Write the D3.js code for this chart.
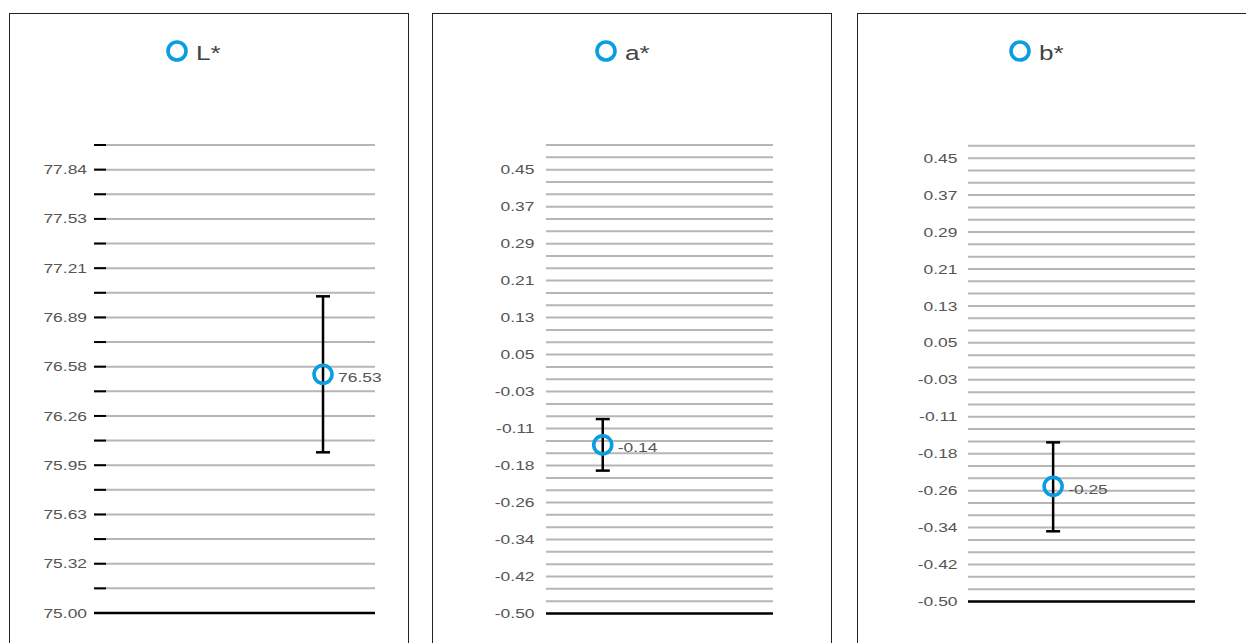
<!DOCTYPE html>
<html>
<head>
<meta charset="utf-8">
<script src="https://cdn.jsdelivr.net/npm/d3@7/dist/d3.min.js"></script>
<style>
  html, body { margin: 0; padding: 0; background: #fff; }
  svg { display: block; }
  text { font-family: "Liberation Sans", Arial, Helvetica, sans-serif; }
</style>
</head>
<body>
<svg id="chart" width="1246" height="643"></svg>
<script>
// Colour coordinates: mean value with its spread for each channel
const channels = ["L*", "a*", "b*"];
const means = [76.53, -0.14, -0.254];
const lows = [76.03, -0.195, -0.35];
const highs = [77.03, -0.085, -0.16];
const pointSlot = [0.815, 0.25, 0.375];

// Axis extents and gridline counts per channel
const domains = [[75, 78], [-0.5, 0.5], [-0.5, 0.5]];
const gridIntervals = [19, 38, 38];
const labelEvery = [2, 3, 3];

// Tick labels per channel
const ticksL = ["75.00", "75.32", "75.63", "75.95", "76.26", "76.58", "76.89", "77.21", "77.53", "77.84"];
const ticksA = ["-0.50", "-0.42", "-0.34", "-0.26", "-0.18", "-0.11", "-0.03", "0.05", "0.13", "0.21", "0.29", "0.37", "0.45"];
const ticksB = ["-0.50", "-0.42", "-0.34", "-0.26", "-0.18", "-0.11", "-0.03", "0.05", "0.13", "0.21", "0.29", "0.37", "0.45"];
const tickLabels = [ticksL, ticksA, ticksB];

const BLUE = "#0b9de2";
const GRID = "#b6b6b6";
const WIDE = 1.34; // horizontal stretch of the typeface

// Panel layout
const panels = [
  { left: 9.5,  plotX: [94, 375],   plotY: [613, 145],   labelRight: 87,  legendX: 177,  stubs: true,  skipTop: false },
  { left: 432.5, plotX: [546, 773], plotY: [613.5, 145], labelRight: 534.5, legendX: 606, stubs: false, skipTop: false },
  { left: 857.5, plotX: [968, 1195], plotY: [601.5, 133.5], labelRight: 957.5, legendX: 1020, stubs: false, skipTop: true }
];
const panelW = 399, panelTop = 13.5;

const svg = d3.select("#chart");
const fmt2 = d3.formatLocale({ decimal: ".", thousands: ",", grouping: [3], currency: ["", ""], minus: "-" }).format(".2f");

// text drawn with a widened face
function wideText(sel, x, y, str, size, fill, anchor) {
  return sel.append("text")
    .attr("transform", `translate(${x},${y}) scale(${WIDE},1)`)
    .attr("text-anchor", anchor || "start")
    .attr("font-size", size)
    .attr("fill", fill)
    .text(str);
}

panels.forEach((p, i) => {
  const g = svg.append("g");

  // frame
  g.append("rect")
    .attr("x", p.left).attr("y", panelTop)
    .attr("width", panelW).attr("height", 700)
    .attr("fill", "none").attr("stroke", "#222").attr("stroke-width", 1);

  const [d0, d1] = domains[i];
  const y = d3.scaleLinear().domain([d0, d1]).range(p.plotY);
  const x = d3.scaleLinear().domain([0, 1]).range(p.plotX);

  // gridlines
  const n = gridIntervals[i];
  let idx = d3.range(n + 1);
  if (p.skipTop) idx = idx.slice(0, n);
  const gridVals = idx.map(k => d0 + k * (d1 - d0) / n);

  g.selectAll("line.grid").data(gridVals.slice(1)).join("line")
    .attr("class", "grid")
    .attr("x1", p.plotX[0]).attr("x2", p.plotX[1])
    .attr("y1", d => y(d)).attr("y2", d => y(d))
    .attr("stroke", GRID).attr("stroke-width", 2);

  if (p.stubs) {
    g.selectAll("line.stub").data(gridVals.slice(1)).join("line")
      .attr("class", "stub")
      .attr("x1", p.plotX[0]).attr("x2", p.plotX[0] + 12)
      .attr("y1", d => y(d)).attr("y2", d => y(d))
      .attr("stroke", "#000").attr("stroke-width", 2);
  }

  // baseline
  g.append("line")
    .attr("x1", p.plotX[0]).attr("x2", p.plotX[1])
    .attr("y1", y(d0)).attr("y2", y(d0))
    .attr("stroke", "#000").attr("stroke-width", 2.5);

  // tick labels at every labelEvery-th gridline
  tickLabels[i].forEach((t, k) => {
    wideText(g, p.labelRight, y(gridVals[k * labelEvery[i]]) + 4.6, t, 13, "#555", "end");
  });

  // error bar
  const cx = x(pointSlot[i]);
  const capW = 7;
  const eb = g.append("g").attr("stroke", "#000").attr("stroke-width", 2.5);
  eb.append("line").attr("x1", cx).attr("x2", cx).attr("y1", y(lows[i])).attr("y2", y(highs[i]));
  eb.append("line").attr("x1", cx - capW).attr("x2", cx + capW).attr("y1", y(lows[i])).attr("y2", y(lows[i]));
  eb.append("line").attr("x1", cx - capW).attr("x2", cx + capW).attr("y1", y(highs[i])).attr("y2", y(highs[i]));

  // mean marker and its value
  g.append("circle")
    .attr("cx", cx).attr("cy", y(means[i])).attr("r", 9)
    .attr("fill", "none").attr("stroke", BLUE).attr("stroke-width", 3.6);
  wideText(g, cx + 15, y(means[i]) + 7.5, fmt2(means[i]), 13, "#555");

  // legend
  g.append("circle")
    .attr("cx", p.legendX).attr("cy", 51).attr("r", 9)
    .attr("fill", "none").attr("stroke", BLUE).attr("stroke-width", 3.6);
  wideText(g, p.legendX + 19, 60, channels[i], 19.5, "#444");
});
</script>
</body>
</html>
